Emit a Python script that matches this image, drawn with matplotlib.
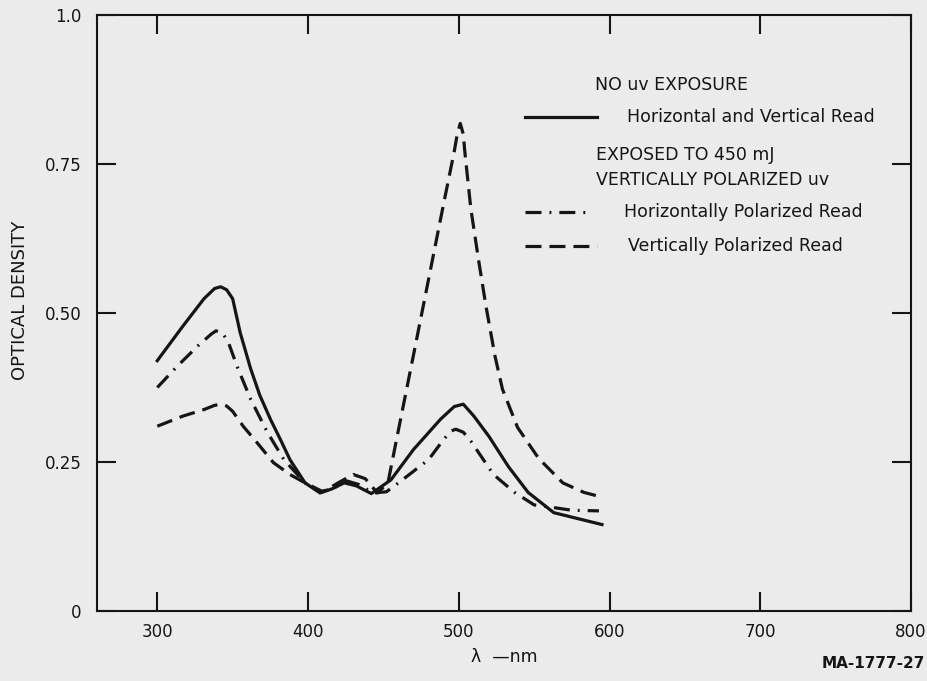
import matplotlib
matplotlib.use("Agg")
import matplotlib.pyplot as plt

# wavelength (nm) vs optical density
wl_none = [300, 317, 331, 338, 342, 346, 350, 355, 362, 368, 375, 382, 388, 398,
           408, 416, 424, 432, 442, 455, 470, 488, 497, 503, 510, 520, 533, 546,
           563, 595]
od_none = [0.42, 0.478, 0.524, 0.541, 0.544, 0.539, 0.524, 0.467, 0.406, 0.362,
           0.322, 0.286, 0.254, 0.215, 0.198, 0.205, 0.215, 0.21, 0.197, 0.22,
           0.271, 0.322, 0.343, 0.347, 0.327, 0.293, 0.242, 0.199, 0.165, 0.145]

wl_hread = [300, 313, 327, 336, 339, 343, 347, 353, 362, 373, 384, 398, 408, 416,
            426, 434, 443, 452, 460, 480, 490, 495, 498, 503, 508, 523, 537, 550,
            559, 575, 593]
od_hread = [0.375, 0.41, 0.445, 0.465, 0.47, 0.467, 0.452, 0.41, 0.355, 0.30,
            0.254, 0.215, 0.2, 0.205, 0.218, 0.212, 0.198, 0.2, 0.215, 0.254,
            0.288, 0.302, 0.305, 0.3, 0.285, 0.229, 0.199, 0.178, 0.175, 0.169,
            0.168]

wl_vread = [300, 317, 331, 338, 342, 346, 350, 357, 366, 377, 388, 398, 410, 420,
            430, 438, 446, 453, 460, 470, 480, 490, 497, 499, 501, 503, 504, 508,
            513, 518, 524, 529, 539, 553, 569, 583, 595]
od_vread = [0.31, 0.327, 0.338, 0.345, 0.347, 0.344, 0.335, 0.31, 0.283, 0.249,
            0.229, 0.215, 0.2, 0.215, 0.229, 0.222, 0.198, 0.215, 0.304, 0.43,
            0.557, 0.684, 0.771, 0.8, 0.818, 0.8, 0.771, 0.675, 0.591, 0.512,
            0.428, 0.372, 0.308, 0.256, 0.215, 0.199, 0.191]

xticks = [300, 400, 500, 600, 700, 800]
yticks = [0, 0.25, 0.5, 0.75, 1.0]
ytick_labels = ["0", "0.25", "0.50", "0.75", "1.0"]

plt.rcParams["font.family"] = ["DejaVu Sans"]
ink = "#151515"
paper = "#ebebeb"

fig = plt.figure(figsize=(9.28, 6.81), dpi=100, facecolor=paper)
ax = fig.add_axes([0.1045, 0.1028, 0.8772, 0.8752], facecolor=paper)

lw = 2.3
ax.plot(wl_none, od_none, color=ink, lw=lw, solid_joinstyle="round")
ax.plot(wl_hread, od_hread, color=ink, lw=lw, dashes=(5, 2.5, 0.6, 2.5))
ax.plot(wl_vread, od_vread, color=ink, lw=lw, dashes=(5, 2.5))

ax.set_xlim(260, 800)
ax.set_ylim(0, 1.0)
ax.set_xticks(xticks)
ax.set_yticks(yticks)
ax.set_yticklabels(ytick_labels)

for s in ax.spines.values():
    s.set_linewidth(1.5)
    s.set_color(ink)
ax.tick_params(direction="in", length=14, width=1.5, color=ink, labelsize=12,
               top=True, right=True, labelcolor=ink)
ax.tick_params(axis="y", pad=11)
ax.tick_params(axis="x", pad=9)

ax.set_xlabel("\u03bb  \u2014nm", fontsize=12.5, labelpad=5, color=ink)
fig.text(20 / 928, 1 - 300 / 681, "OPTICAL DENSITY", rotation=90,
         ha="center", va="center", fontsize=13, color=ink)
fig.text(0.997, 1 - 664 / 681, "MA-1777-27", ha="right", va="center",
         fontsize=11, fontweight="bold", color=ink)

# hand-drawn style key
tr = ax.transAxes
fs = 12.5
ax.text(0.612, 0.883, "NO uv EXPOSURE", transform=tr, fontsize=fs, va="center", color=ink)
ax.plot([0.526, 0.614], [0.829, 0.829], transform=tr, color=ink, lw=lw)
ax.text(0.651, 0.829, "Horizontal and Vertical Read", transform=tr, fontsize=fs,
        va="center", color=ink)
ax.text(0.613, 0.765, "EXPOSED TO 450 mJ", transform=tr, fontsize=fs, va="center", color=ink)
ax.text(0.613, 0.723, "VERTICALLY POLARIZED uv", transform=tr, fontsize=fs,
        va="center", color=ink)
ax.plot([0.526, 0.608], [0.669, 0.669], transform=tr, color=ink, lw=lw,
        dashes=(5, 2.5, 0.6, 2.5))
ax.text(0.647, 0.669, "Horizontally Polarized Read", transform=tr, fontsize=fs,
        va="center", color=ink)
ax.plot([0.526, 0.614], [0.612, 0.612], transform=tr, color=ink, lw=lw, dashes=(5, 2.5))
ax.text(0.652, 0.612, "Vertically Polarized Read", transform=tr, fontsize=fs,
        va="center", color=ink)

fig.savefig("out.png", dpi=100, facecolor=paper)
